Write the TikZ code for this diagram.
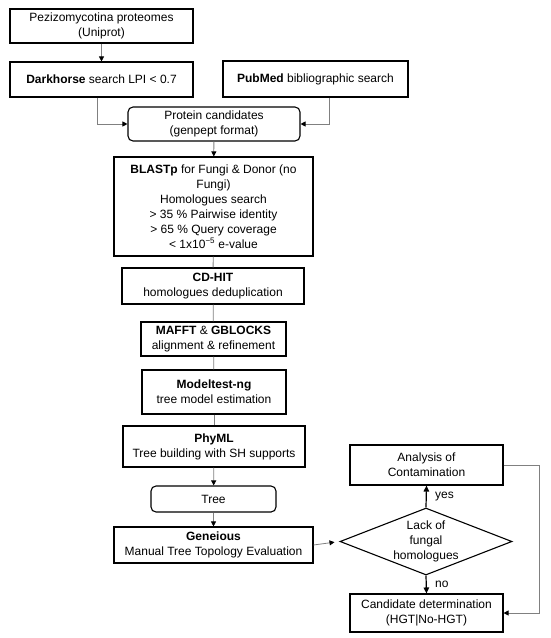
\documentclass[tikz,border=0pt]{standalone}
\usepackage{fontspec}
\setmainfont{Liberation Sans}
\usetikzlibrary{arrows.meta,shapes.geometric}
\begin{document}
\begin{tikzpicture}[x=1pt,y=-1pt,
  font=\fontsize{12}{15}\selectfont,
  box/.style={draw=black, line width=1.1pt, align=center, inner sep=0pt},
  rbox/.style={box, rounded corners=5pt},
  conn/.style={draw=black!50, line width=0.8pt},
  arr/.style={conn, -{Triangle[length=5pt,width=5pt,color=black]}},
  barr/.style={draw=black, line width=1.2pt, -{Triangle[length=6pt,width=5.5pt]}}]
\useasboundingbox (0,0) rectangle (550,638);

\node[box, minimum width=183pt, minimum height=34pt] (prot) at (101.5,26) {Pezizomycotina proteomes\\(Uniprot)};
\node[box, minimum width=183pt, minimum height=35pt] (dark) at (101.5,79.5) {\textbf{Darkhorse} search LPI < 0.7};
\node[box, minimum width=185pt, minimum height=36pt] (pub) at (315.5,79) {\textbf{PubMed} bibliographic search};
\node[rbox, minimum width=172pt, minimum height=34pt] (cand0) at (214,124) {Protein candidates\\(genpept format)};
\node[box, minimum width=199pt, minimum height=99pt] (blast) at (213.5,206.5) {\textbf{BLASTp} for Fungi \& Donor (no\\Fungi)\\Homologues search\\> 35 \% Pairwise identity\\> 65 \% Query coverage\\< 1x10\textsuperscript{−5} e-value};
\node[box, minimum width=182pt, minimum height=36pt] (cdhit) at (213,286) {\textbf{CD-HIT}\\homologues deduplication};
\node[box, minimum width=145pt, minimum height=34pt] (mafft) at (213.5,339) {\textbf{MAFFT} \& \textbf{GBLOCKS}\\alignment \& refinement};
\node[box, minimum width=144pt, minimum height=44pt] (model) at (214,392) {\textbf{Modeltest-ng}\\tree model estimation};
\node[box, minimum width=182pt, minimum height=41pt] (phyml) at (214,446.5) {\textbf{PhyML}\\Tree building with SH supports};
\node[rbox, minimum width=125pt, minimum height=26pt] (tree) at (213.5,499) {Tree};
\node[box, minimum width=199pt, minimum height=36pt] (gen) at (213.5,545) {\textbf{Geneious}\\Manual Tree Topology Evaluation};
\node[diamond, draw=black, line width=1.1pt, inner sep=0pt, minimum width=172pt, minimum height=67pt] (dec) at (426,541.5) {};
\node[align=center] (dectext) at (dec.center) {Lack of\\fungal\\homologues};
\node[box, minimum width=153pt, minimum height=40pt] (ana) at (426.5,465) {Analysis of\\Contamination};
\node[box, minimum width=153pt, minimum height=38pt] (cdet) at (426.5,613) {Candidate determination\\(HGT|No-HGT)};

\draw[arr] (prot) -- (dark);
\draw[arr] ([xshift=-4.5pt]dark.south) |- (cand0.west);
\draw[arr] ([xshift=13.5pt]pub.south) |- (cand0.east);
\draw[arr] (cand0) -- (blast);
\draw[conn] (blast) -- (cdhit);
\draw[conn] (cdhit) -- (mafft);
\draw[conn] (mafft) -- (model);
\draw[conn] (model) -- (phyml);
\draw[arr] (phyml) -- (tree);
\draw[arr] (tree) -- (gen);
\draw[arr, shorten >=5pt] (gen.east) -- (dec.west);
\draw[barr] (dec.north) -- node[right=5pt] (yes) {yes} (ana.south);
\draw[barr] (dec.south) -- node[right=5pt] (no) {no} (cdet.north);
\draw[arr] (ana.east) -- ++(36,0) |- (cdet.east);
\end{tikzpicture}
\end{document}
